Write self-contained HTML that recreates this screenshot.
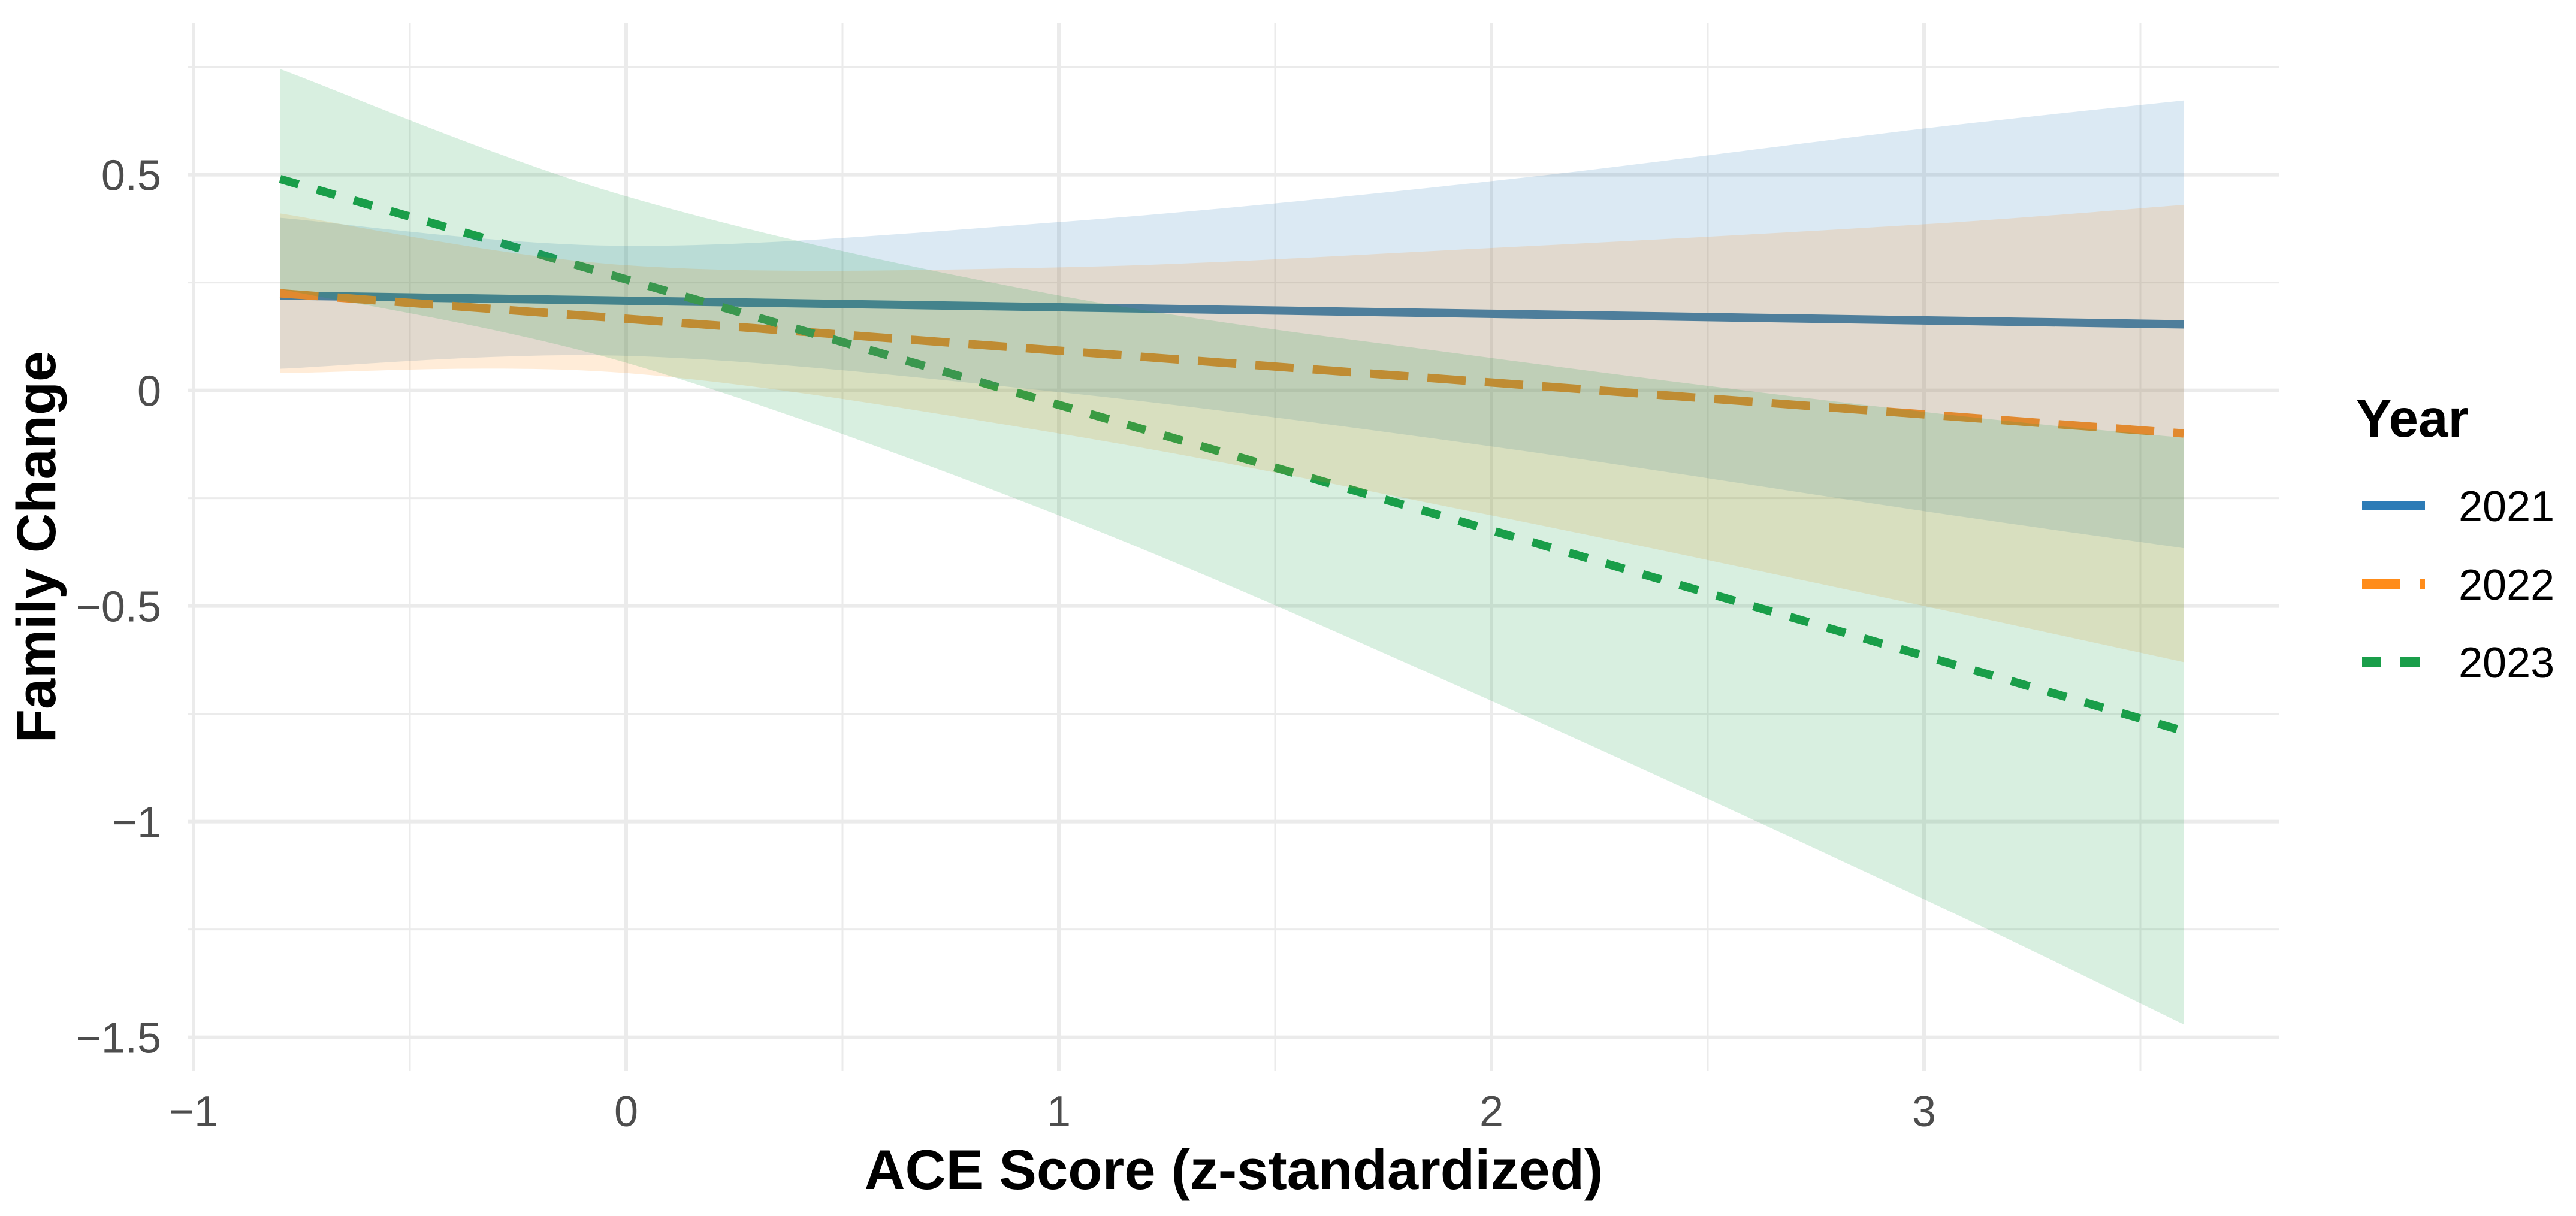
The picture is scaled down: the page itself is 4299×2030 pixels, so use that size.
<!DOCTYPE html>
<html><head><meta charset="utf-8"><style>
html,body{margin:0;padding:0;background:#fff;}
svg{display:block;font-family:"Liberation Sans",Arial,sans-serif;}
</style></head><body>
<svg id="chart" width="4299" height="2030" viewBox="0 0 4299 2030" xmlns="http://www.w3.org/2000/svg">
<g id="grid"></g>
<g id="lines"></g>
<g id="bands"></g>
<g id="axes"></g>
<text x="2059" y="1985" font-size="94" font-weight="bold" text-anchor="middle" fill="#000">ACE Score (z-standardized)</text>
<text transform="translate(92,913) rotate(-90)" font-size="92" font-weight="bold" text-anchor="middle" fill="#000">Family Change</text>
<g id="legend">
<text x="3932" y="729" font-size="89" font-weight="bold" fill="#000">Year</text>
</g>
</svg>
<script>
const years = ["2021","2022","2023"];
const colors = ["#2C7BB6","#FF8C1A","#1A9E4A"];
const dashes = ["none","64 32","32 32"];
const bandX = [-0.8, 0, 1, 2, 3, 3.6];
const fit2021 = [0.220, 0.208, 0.193, 0.178, 0.162, 0.153];
const up2021 = [0.40, 0.335, 0.39, 0.485, 0.607, 0.672];
const lo2021 = [0.05, 0.08, -0.004, -0.13, -0.28, -0.366];
const fit2022 = [0.225, 0.166, 0.092, 0.018, -0.056, -0.100];
const up2022 = [0.41, 0.29, 0.285, 0.33, 0.385, 0.43];
const lo2022 = [0.04, 0.04, -0.10, -0.29, -0.50, -0.63];
const fit2023 = [0.490, 0.257, -0.034, -0.325, -0.616, -0.790];
const up2023 = [0.745, 0.45, 0.22, 0.075, -0.05, -0.11];
const lo2023 = [0.235, 0.064, -0.29, -0.72, -1.18, -1.47];
const xTicks = [-1, 0, 1, 2, 3];
const xTickLabels = ["\u22121","0","1","2","3"];
const yTicks = [0.5, 0, -0.5, -1, -1.5];
const yTickLabels = ["0.5","0","\u22120.5","\u22121","\u22121.5"];
const xMinor = [-0.5, 0.5, 1.5, 2.5, 3.5];
const yMinor = [0.75, 0.25, -0.25, -0.75, -1.25];

const NS="http://www.w3.org/2000/svg";
const X = v => 1045 + 722*v;
const Y = v => 651.6 - 720*v;
const PL=314, PR=3804, PT=39, PB=1788;
function mk(tag, parent){const e=document.createElementNS(NS,tag);parent.appendChild(e);return e;}
const grid=document.getElementById('grid');
xMinor.forEach(v=>{const l=mk('line',grid);


l.setAttribute('x1',X(v));l.setAttribute('x2',X(v));l.setAttribute('y1',PT);l.setAttribute('y2',PB);l.setAttribute('stroke','#EBEBEB');l.setAttribute('stroke-width','3');});
yMinor.forEach(v=>{const l=mk('line',grid);


l.setAttribute('y1',Y(v));l.setAttribute('y2',Y(v));l.setAttribute('x1',PL);l.setAttribute('x2',PR);l.setAttribute('stroke','#EBEBEB');l.setAttribute('stroke-width','3');});
xTicks.forEach(v=>{const l=mk('line',grid);


l.setAttribute('x1',X(v));l.setAttribute('x2',X(v));l.setAttribute('y1',PT);l.setAttribute('y2',PB);l.setAttribute('stroke','#EBEBEB');l.setAttribute('stroke-width','6');});
yTicks.forEach(v=>{const l=mk('line',grid);


l.setAttribute('y1',Y(v));l.setAttribute('y2',Y(v));l.setAttribute('x1',PL);l.setAttribute('x2',PR);l.setAttribute('stroke','#EBEBEB');l.setAttribute('stroke-width','6');});
const axes=document.getElementById('axes');
xTicks.forEach((v,i)=>{const t=mk('text',axes);


t.setAttribute('x',X(v));t.setAttribute('y',1880);t.setAttribute('font-size','72');t.setAttribute('fill','#4D4D4D');t.setAttribute('text-anchor','middle');t.textContent=xTickLabels[i];});
yTicks.forEach((v,i)=>{const t=mk('text',axes);


t.setAttribute('x',269);t.setAttribute('y',Y(v)+26);t.setAttribute('font-size','72');t.setAttribute('fill','#4D4D4D');t.setAttribute('text-anchor','end');t.textContent=yTickLabels[i];});
const fits=[fit2021,fit2022,fit2023], ups=[up2021,up2022,up2023], los=[lo2021,lo2022,lo2023];
function smooth(xs, ys){ // Catmull-Rom through points
  const p=xs.map((x,i)=>[X(x),Y(ys[i])]);
  let d=`M${p[0][0]},${p[0][1]}`;
  for(let i=0;i<p.length-1;i++){
    const p0=p[Math.max(i-1,0)],p1=p[i],p2=p[i+1],p3=p[Math.min(i+2,p.length-1)];
    const c1=[p1[0]+(p2[0]-p0[0])/6,p1[1]+(p2[1]-p0[1])/6];
    const c2=[p2[0]-(p3[0]-p1[0])/6,p2[1]-(p3[1]-p1[1])/6];
    d+=` C${c1[0]},${c1[1]} ${c2[0]},${c2[1]} ${p2[0]},${p2[1]}`;
  }
  return d;
}
const linesG=document.getElementById('lines'), bandsG=document.getElementById('bands');
years.forEach((y,i)=>{
  const n=bandX.length;
  const l=mk('line',linesG);
  
  
  l.setAttribute('x1',X(bandX[0]));l.setAttribute('y1',Y(fits[i][0]));
  l.setAttribute('x2',X(bandX[n-1]));l.setAttribute('y2',Y(fits[i][n-1]));
  l.setAttribute('stroke',colors[i]);l.setAttribute('stroke-width','14');
  if(dashes[i]!=='none')l.setAttribute('stroke-dasharray',dashes[i]);
});
years.forEach((y,i)=>{
  const n=bandX.length;
  const up=smooth(bandX,ups[i]);
  const rx=bandX.slice().reverse(), rl=los[i].slice().reverse();
  const lo=smooth(rx,rl).replace(/^M/,' L');
  const p=mk('path',bandsG);
  
  
  p.setAttribute('d',up+lo+' Z');p.setAttribute('fill',colors[i]);p.setAttribute('fill-opacity','0.17');
});
const leg=document.getElementById('legend');
const keyY=[844,975,1105];
years.forEach((y,i)=>{
  const l=mk('line',leg);
  
  
  l.setAttribute('x1',3942);l.setAttribute('x2',4047);l.setAttribute('y1',keyY[i]);l.setAttribute('y2',keyY[i]);
  l.setAttribute('stroke',colors[i]);l.setAttribute('stroke-width','16');
  if(dashes[i]!=='none')l.setAttribute('stroke-dasharray',dashes[i]);
  const t=mk('text',leg);
  
  
  t.setAttribute('x',4103);t.setAttribute('y',keyY[i]+26);t.setAttribute('font-size','72');t.setAttribute('fill','#000');t.textContent=y;
});
</script>
</body></html>
